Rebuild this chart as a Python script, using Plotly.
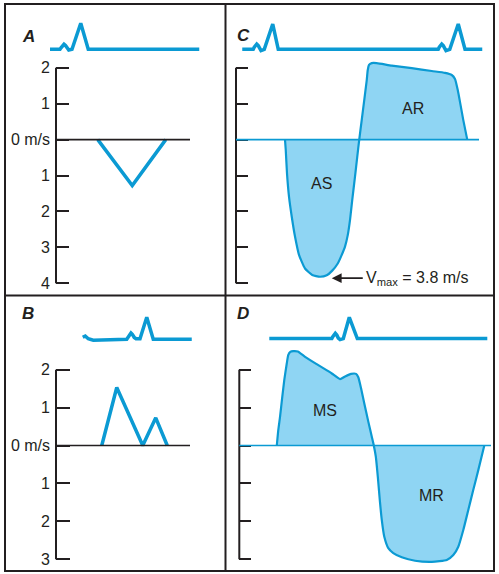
import plotly.graph_objects as go

# ---------------- data (time in s, velocity in m/s, ECG in mV) ----------------
# Panel A: normal aortic outflow (single V below baseline)
a_t = [0.167, 0.305, 0.439]
a_v = [0.0, -1.28, 0.0]

# Panel B: normal mitral inflow (E and A waves)
b_t = [0.183, 0.243, 0.347, 0.399, 0.445]
b_v = [0.0, 1.53, 0.0, 0.73, 0.0]

# Panel C: aortic stenosis (AS) + aortic regurgitation (AR)
c_t = [0.196, 0.199, 0.204, 0.212, 0.223, 0.236, 0.252, 0.276, 0.305, 0.336,
       0.363, 0.385, 0.407, 0.423, 0.436, 0.447, 0.456, 0.465, 0.476, 0.485,
       0.493, 0.503, 0.513, 0.523, 0.527, 0.532, 0.543, 0.563, 0.623, 0.703,
       0.783, 0.836, 0.863, 0.876, 0.887, 0.897, 0.909, 0.925]
c_v = [0.0, -0.29, -0.94, -1.59, -2.15, -2.70, -3.21, -3.59, -3.77, -3.82,
       -3.78, -3.65, -3.45, -3.21, -2.98, -2.66, -2.24, -1.68, -1.03, -0.48,
       0.0, 0.55, 1.10, 1.66, 1.94, 2.08, 2.13, 2.13, 2.06, 1.99,
       1.91, 1.86, 1.80, 1.69, 1.38, 1.01, 0.55, 0.0]
c_vmax_t = 0.383
c_vmax_v = -3.86

# Panel D: mitral stenosis (MS) + mitral regurgitation (MR)
d_t = [0.150, 0.156, 0.163, 0.172, 0.180, 0.190, 0.196, 0.204, 0.216, 0.234,
       0.263, 0.316, 0.370, 0.403, 0.423, 0.447, 0.467, 0.476, 0.487, 0.500,
       0.516, 0.530, 0.538, 0.546, 0.554, 0.562, 0.570, 0.580, 0.596, 0.616,
       0.650, 0.703, 0.770, 0.830, 0.856, 0.876, 0.896, 0.916, 0.936, 0.956,
       0.980]
d_v = [0.0, 0.41, 0.76, 1.29, 1.73, 2.17, 2.39, 2.47, 2.49, 2.48,
       2.34, 2.12, 1.90, 1.75, 1.82, 1.89, 1.89, 1.80, 1.51, 1.11,
       0.63, 0.23, 0.0, -0.29, -0.82, -1.44, -1.97, -2.41, -2.71, -2.84,
       -2.95, -3.04, -3.07, -3.02, -2.89, -2.67, -2.23, -1.70, -1.17, -0.65,
       0.0]

# ECG traces
ecg_a_t = [-0.024, 0.016, 0.020, 0.026, 0.032, 0.038, 0.044, 0.051, 0.064,
           0.099, 0.129, 0.573]
ecg_a_mv = [0.0, 0.0, 0.06, 0.16, 0.20, 0.15, 0.04, -0.03, 0.0, 1.04, 0.0, 0.0]

ecg_b_t = [0.107, 0.117, 0.129, 0.149, 0.283, 0.288, 0.294, 0.300, 0.306, 0.313,
           0.320, 0.336, 0.363, 0.389, 0.543]
ecg_b_mv = [0.09, 0.14, 0.03, -0.03, 0.01, 0.10, 0.22, 0.26, 0.20, 0.08,
            0.03, 0.03, 0.89, 0.01, 0.01]

ecg_c_t = [0.025, 0.069, 0.073, 0.078, 0.083, 0.089, 0.094, 0.100, 0.113, 0.147,
           0.169, 0.809, 0.813, 0.818, 0.823, 0.829, 0.834, 0.840, 0.855, 0.889,
           0.916, 0.985]
ecg_c_mv = [0.0, 0.0, 0.08, 0.18, 0.21, 0.15, 0.03, -0.05, 0.0, 1.01,
            0.0, 0.0, 0.08, 0.18, 0.21, 0.15, 0.03, -0.05, 0.0, 1.01,
            0.0, 0.0]

ecg_d_t = [0.120, 0.370, 0.374, 0.379, 0.384, 0.390, 0.396, 0.403, 0.416, 0.440,
           0.472, 0.992]
ecg_d_mv = [0.0, 0.0, 0.08, 0.18, 0.21, 0.14, 0.02, -0.04, 0.0, 0.85, 0.0, 0.0]

# Axis ticks
ticks_ac = [2, 1, 0, -1, -2, -3, -4]
labels_ac = ["2", "1", "0 m/s", "1", "2", "3", "4"]
ticks_bd = [2, 1, 0, -1, -2, -3]
labels_bd = ["2", "1", "0 m/s", "1", "2", "3"]

panel_letters = ["A", "B", "C", "D"]
region_labels = [("AR", 0.709, 0.87), ("AS", 0.343, -1.22)]
region_labels_d = [("MS", 0.343, 0.92), ("MR", 0.770, -1.33)]

# ---------------- layout constants ----------------
W, H = 499, 574
SX = 250.0   # px per second
SE = 25.0    # px per mV
BLUE = "#0b9ad3"
FILL = "#8fd5f3"
INK = "#231f20"
FONT = "Liberation Sans, Arial, sans-serif"
FS = 16

L, R, T, B = 5, 494, 4, 571
VD, HD = 225.5, 295.5


def xd(px):
    return px / W


def yd(py):
    return 1 - py / H


panels = [
    dict(box=(L, T, VD, HD), spine=56, zero=139.6, sc=35.9, zend=190, ebase=49.3,
         t=a_t, v=a_v, et=ecg_a_t, emv=ecg_a_mv, ticks=ticks_ac, labels=labels_ac,
         show=True, zcol=INK, fill=False, lw=3.5, ticklen=13, letter=(20, 24.5)),
    dict(box=(L, HD, VD, B), spine=56, zero=445.5, sc=37.9, zend=190, ebase=339.5,
         t=b_t, v=b_v, et=ecg_b_t, emv=ecg_b_mv, ticks=ticks_bd, labels=labels_bd,
         show=True, zcol=INK, fill=False, lw=3.5, ticklen=14, letter=(20, 313.3)),
    dict(box=(VD, T, R, HD), spine=236, zero=139.6, sc=35.9, zend=479, ebase=49.3,
         t=c_t, v=c_v, et=ecg_c_t, emv=ecg_c_mv, ticks=ticks_ac, labels=labels_ac,
         show=False, zcol=BLUE, fill=True, lw=2.2, ticklen=12, letter=(243, 24.3)),
    dict(box=(VD, HD, R, B), spine=239.3, zero=445.5, sc=37.9, zend=491, ebase=338.6,
         t=d_t, v=d_v, et=ecg_d_t, emv=ecg_d_mv, ticks=ticks_bd, labels=labels_bd,
         show=False, zcol=BLUE, fill=True, lw=2.2, ticklen=12, letter=(243, 313.3)),
]

fig = go.Figure()
layout = dict(width=W, height=H, margin=dict(l=0, r=0, t=0, b=0),
              paper_bgcolor="white", plot_bgcolor="rgba(0,0,0,0)",
              showlegend=False, font=dict(family=FONT, color=INK))
shapes = []
annotations = []

for i, p in enumerate(panels):
    n1, n2 = 2 * i + 1, 2 * i + 2
    xk1 = "xaxis" if n1 == 1 else f"xaxis{n1}"
    yk1 = "yaxis" if n1 == 1 else f"yaxis{n1}"
    xr1 = "x" if n1 == 1 else f"x{n1}"
    yr1 = "y" if n1 == 1 else f"y{n1}"
    xk2, yk2, xr2, yr2 = f"xaxis{n2}", f"yaxis{n2}", f"x{n2}", f"y{n2}"
    bl, bt, br, bb = p["box"]

    # Doppler axes
    top, bot = bt + 2, bb - 2
    layout[xk1] = dict(domain=[xd(p["spine"]), xd(p["zend"])],
                       range=[0, (p["zend"] - p["spine"]) / SX],
                       visible=False, anchor=yr1, fixedrange=True)
    layout[yk1] = dict(domain=[yd(bot), yd(top)],
                       range=[(p["zero"] - bot) / p["sc"], (p["zero"] - top) / p["sc"]],
                       anchor=xr1, tickvals=p["ticks"], ticktext=p["labels"],
                       showticklabels=p["show"], ticks="inside", ticklen=p["ticklen"],
                       tickwidth=2, tickcolor=INK, showgrid=False, zeroline=False,
                       showline=False, fixedrange=True, ticklabelstandoff=5,
                       tickfont=dict(size=FS, family=FONT, color=INK))
    # ECG axes
    etop, ebot = bt + 2, p["ebase"] + 12
    layout[xk2] = dict(domain=[xd(bl + 2), xd(br - 2)],
                       range=[(bl + 2 - p["spine"]) / SX, (br - 2 - p["spine"]) / SX],
                       visible=False, anchor=yr2, fixedrange=True)
    layout[yk2] = dict(domain=[yd(ebot), yd(etop)],
                       range=[(p["ebase"] - ebot) / SE, (p["ebase"] - etop) / SE],
                       visible=False, anchor=xr2, fixedrange=True)

    fig.add_trace(go.Scatter(
        x=p["t"], y=p["v"], mode="lines", xaxis=xr1, yaxis=yr1,
        line=dict(color=BLUE, width=p["lw"],
                  shape="spline" if p["fill"] else "linear", smoothing=0.5),
        fill="tozeroy" if p["fill"] else None, fillcolor=FILL, hoverinfo="skip"))
    fig.add_trace(go.Scatter(
        x=p["et"], y=p["emv"], mode="lines", xaxis=xr2, yaxis=yr2,
        line=dict(color=BLUE, width=3.5), hoverinfo="skip"))

    # spine and zero line
    shapes.append(dict(type="line", xref=f"{xr1} domain", yref=yr1, x0=0, x1=0,
                       y0=p["ticks"][0], y1=p["ticks"][-1],
                       line=dict(color=INK, width=2)))
    shapes.append(dict(type="line", xref=f"{xr1} domain", yref=yr1, x0=0, x1=1,
                       y0=0, y1=0, line=dict(color=p["zcol"], width=1.6)))

    lx, ly = p["letter"]
    annotations.append(dict(text=f"<b><i>{panel_letters[i]}</i></b>", xref="paper",
                            yref="paper", x=xd(lx), y=yd(ly), showarrow=False,
                            font=dict(size=17, family=FONT, color=INK)))
    if i == 2:
        for txt, tx, ty in region_labels:
            annotations.append(dict(text=txt, xref=xr1, yref=yr1, x=tx, y=ty,
                                    showarrow=False,
                                    font=dict(size=FS, family=FONT, color=INK)))
        annotations.append(dict(text="V<sub>max</sub> = 3.8 m/s", xref=xr1, yref=yr1,
                                x=c_vmax_t, y=c_vmax_v, showarrow=True, ax=31, ay=0,
                                xanchor="left", yanchor="middle", arrowhead=2,
                                arrowsize=1.1, arrowwidth=1.8, arrowcolor=INK,
                                standoff=0, borderpad=2,
                                font=dict(size=FS, family=FONT, color=INK)))
    if i == 3:
        for txt, tx, ty in region_labels_d:
            annotations.append(dict(text=txt, xref=xr1, yref=yr1, x=tx, y=ty,
                                    showarrow=False,
                                    font=dict(size=FS, family=FONT, color=INK)))

# frame
frame = dict(color=INK, width=2)
shapes.append(dict(type="rect", xref="paper", yref="paper", x0=xd(L), x1=xd(R),
                   y0=yd(B), y1=yd(T), line=frame))
shapes.append(dict(type="line", xref="paper", yref="paper", x0=xd(VD), x1=xd(VD),
                   y0=yd(B), y1=yd(T), line=frame))
shapes.append(dict(type="line", xref="paper", yref="paper", x0=xd(L), x1=xd(R),
                   y0=yd(HD), y1=yd(HD), line=frame))

layout["shapes"] = shapes
layout["annotations"] = annotations
fig.update_layout(**layout)
fig.write_html("out.html")
